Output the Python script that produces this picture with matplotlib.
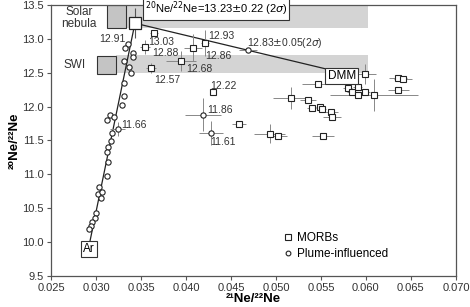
import numpy as np
import matplotlib.pyplot as plt
from matplotlib.patches import Rectangle

plt.rcParams['font.family'] = ['Liberation Sans', 'DejaVu Sans']

# MORB samples (squares) with error bars
morb_x = [0.03644, 0.03544, 0.04078, 0.04211, 0.03944, 0.03611, 0.0430,
          0.0599, 0.0547, 0.0636, 0.0641, 0.0636, 0.0580, 0.0591, 0.0584,
          0.0591, 0.0599, 0.0609, 0.0517, 0.0536, 0.0540, 0.0549, 0.0551,
          0.0561, 0.0562, 0.0459, 0.0493, 0.0502, 0.0552]
morb_y = [13.09, 12.88, 12.87, 12.94, 12.67, 12.57, 12.22,
          12.48, 12.33, 12.42, 12.41, 12.25, 12.28, 12.29, 12.22,
          12.17, 12.22, 12.17, 12.13, 12.10, 11.98, 12.00, 11.96,
          11.92, 11.85, 11.75, 11.60, 11.57, 11.57]
morb_xerr = [0.0004, 0.0006, 0.0010, 0.0004, 0.0017, 0.0006, 0.0003,
             0.0012, 0.0018, 0.0010, 0.0010, 0.0012, 0.0005, 0.0005, 0.0005,
             0.0005, 0.0005, 0.0049, 0.0020, 0.0009, 0.0005, 0.0005, 0.0005,
             0.0008, 0.0010, 0.0008, 0.0017, 0.0010, 0.0012]
morb_yerr = [0.03, 0.10, 0.20, 0.19, 0.15, 0.07, 0.05,
             0.15, 0.04, 0.03, 0.03, 0.03, 0.04, 0.04, 0.04,
             0.04, 0.04, 0.24, 0.16, 0.04, 0.03, 0.03, 0.03,
             0.04, 0.04, 0.03, 0.14, 0.03, 0.03]

# plume-influenced samples (circles)
plume_x = [0.03356, 0.03322, 0.0341, 0.0341, 0.0331, 0.0337, 0.0339, 0.0331,
           0.0331, 0.0329, 0.03156, 0.0320, 0.0312, 0.0324, 0.0318, 0.0317,
           0.0313, 0.0312, 0.0313, 0.0312, 0.03033, 0.0302, 0.0307, 0.0306,
           0.0300, 0.0299, 0.0296, 0.0294, 0.0292, 0.0469, 0.0419, 0.04278]
plume_y = [12.92, 12.87, 12.79, 12.73, 12.67, 12.58, 12.50, 12.35,
           12.16, 12.02, 11.88, 11.85, 11.80, 11.67, 11.61, 11.49,
           11.40, 11.33, 11.18, 10.98, 10.81, 10.71, 10.74, 10.65,
           10.43, 10.36, 10.30, 10.24, 10.19, 12.84, 11.88, 11.61]
plume_xerr = [0] * 13 + [0.0008] + [0] * 15 + [0.0010, 0.0020, 0.0013]
plume_yerr = [0] * 13 + [0.10] + [0] * 15 + [0.0, 0.24, 0.17]

# end members
air = (0.0290, 9.80)
solar = (0.03433, 13.23)
dmm = (0.0573, 12.50)

labels = ['12.91', '13.03', '12.88', '12.57', '12.68', '12.93', '12.86',
          '12.22', '11.86', '11.61', '11.66']
label_x = [0.0318, 0.0373, 0.0377, 0.0379, 0.04144, 0.0439, 0.0436,
           0.0442, 0.0438, 0.0441, 0.0342]
label_y = [13.00, 12.95, 12.79, 12.39, 12.55, 13.04, 12.75,
           12.30, 11.95, 11.48, 11.73]

fig, ax = plt.subplots(figsize=(4.7, 3.07), dpi=100)
fig.subplots_adjust(left=0.1085, right=0.970, bottom=0.101, top=0.984)

# grey bands and boxes
ax.add_patch(Rectangle((0.0312, 13.16), 0.0602 - 0.0312, 0.34, facecolor='#d4d4d4',
                       edgecolor='none', zorder=0))
ax.add_patch(Rectangle((0.0312, 13.16), 0.0021, 0.34, facecolor='#c4c4c4',
                       edgecolor='#333333', lw=0.8, zorder=1))
ax.add_patch(Rectangle((0.0322, 12.50), 0.0602 - 0.0322, 0.26, facecolor='#d4d4d4',
                       edgecolor='none', zorder=0))
ax.add_patch(Rectangle((0.0301, 12.48), 0.0021, 0.27, facecolor='#c4c4c4',
                       edgecolor='#333333', lw=0.8, zorder=1))

# mixing lines
ax.plot([air[0], solar[0]], [air[1], solar[1]], color='#222222', lw=0.9, zorder=2)
ax.plot([solar[0], dmm[0]], [solar[1], dmm[1]], color='#222222', lw=0.9, zorder=2)

ax.errorbar(morb_x, morb_y, xerr=morb_xerr, yerr=morb_yerr, fmt='none',
            ecolor='#888888', elinewidth=0.7, capsize=0, zorder=3)
ax.errorbar(plume_x, plume_y, xerr=plume_xerr, yerr=plume_yerr, fmt='none',
            ecolor='#888888', elinewidth=0.7, capsize=0, zorder=3)
ax.errorbar([solar[0]], [solar[1]], yerr=[0.22], fmt='none', ecolor='#555555',
            elinewidth=0.8, capsize=0, zorder=3)

ax.plot(morb_x, morb_y, 's', ms=4.2, mfc='white', mec='#222222', mew=0.8,
        zorder=4, label='MORBs', linestyle='none')
ax.plot(plume_x, plume_y, 'o', ms=3.8, mfc='white', mec='#222222', mew=0.8,
        zorder=4, label='Plume-influenced', linestyle='none')
ax.plot([solar[0]], [solar[1]], 's', ms=8, mfc='white', mec='#222222', mew=0.9,
        zorder=5)

for t, lx, ly in zip(labels, label_x, label_y):
    ax.text(lx, ly, t, fontsize=7.5, ha='center', va='center', color='#333333', zorder=6)

box = dict(boxstyle='square,pad=0.2', facecolor='white', edgecolor='#333333', lw=0.8)
ax.text(0.0281, 13.30, 'Solar\nnebula', fontsize=8.5, ha='center', va='center',
        linespacing=1.0, color='#333333')
ax.text(0.02767, 12.61, 'SWI', fontsize=8.5, ha='center', va='center', color='#333333')
ax.text(0.0292, 9.90, 'Ar', fontsize=8.5, ha='center', va='center', bbox=box, zorder=6)
ax.text(0.0573, 12.45, 'DMM', fontsize=8.5, ha='center', va='center', bbox=box, zorder=6)
ax.text(0.04333, 13.44, r'$^{20}$Ne/$^{22}$Ne=13.23$\pm$0.22 (2$\sigma$)', fontsize=8,
        ha='center', va='center', zorder=6,
        bbox=dict(boxstyle='square,pad=0.12', facecolor='white', edgecolor='#333333', lw=0.8))
ax.text(0.0510, 12.94, r'12.83$\pm$0.05(2$\sigma$)', fontsize=7.5, ha='center',
        va='center', color='#333333', zorder=6)

ax.set_xlim(0.025, 0.070)
ax.set_ylim(9.5, 13.5)
ax.set_xticks(np.arange(0.025, 0.0701, 0.005))
ax.set_yticks(np.arange(9.5, 13.51, 0.5))
ax.xaxis.set_major_formatter(plt.FormatStrFormatter('%.3f'))
ax.yaxis.set_major_formatter(plt.FormatStrFormatter('%.1f'))
ax.tick_params(labelsize=8, length=3, width=0.8, pad=2, color='#555555', labelcolor='#333333')
for s in ax.spines.values():
    s.set_color('#555555')
    s.set_linewidth(0.9)

ax.set_xlabel('²¹Ne/²²Ne', fontsize=9.5, fontweight='bold', labelpad=0)
ax.set_ylabel('²⁰Ne/²²Ne', fontsize=9.5, fontweight='bold', labelpad=1)

ax.legend(loc='lower right', bbox_to_anchor=(0.86, 0.02), frameon=False, fontsize=8.5,
          handletextpad=0.3, labelspacing=0.3, handlelength=1.0, markerscale=0.9)

fig.savefig('out.png', dpi=100)
